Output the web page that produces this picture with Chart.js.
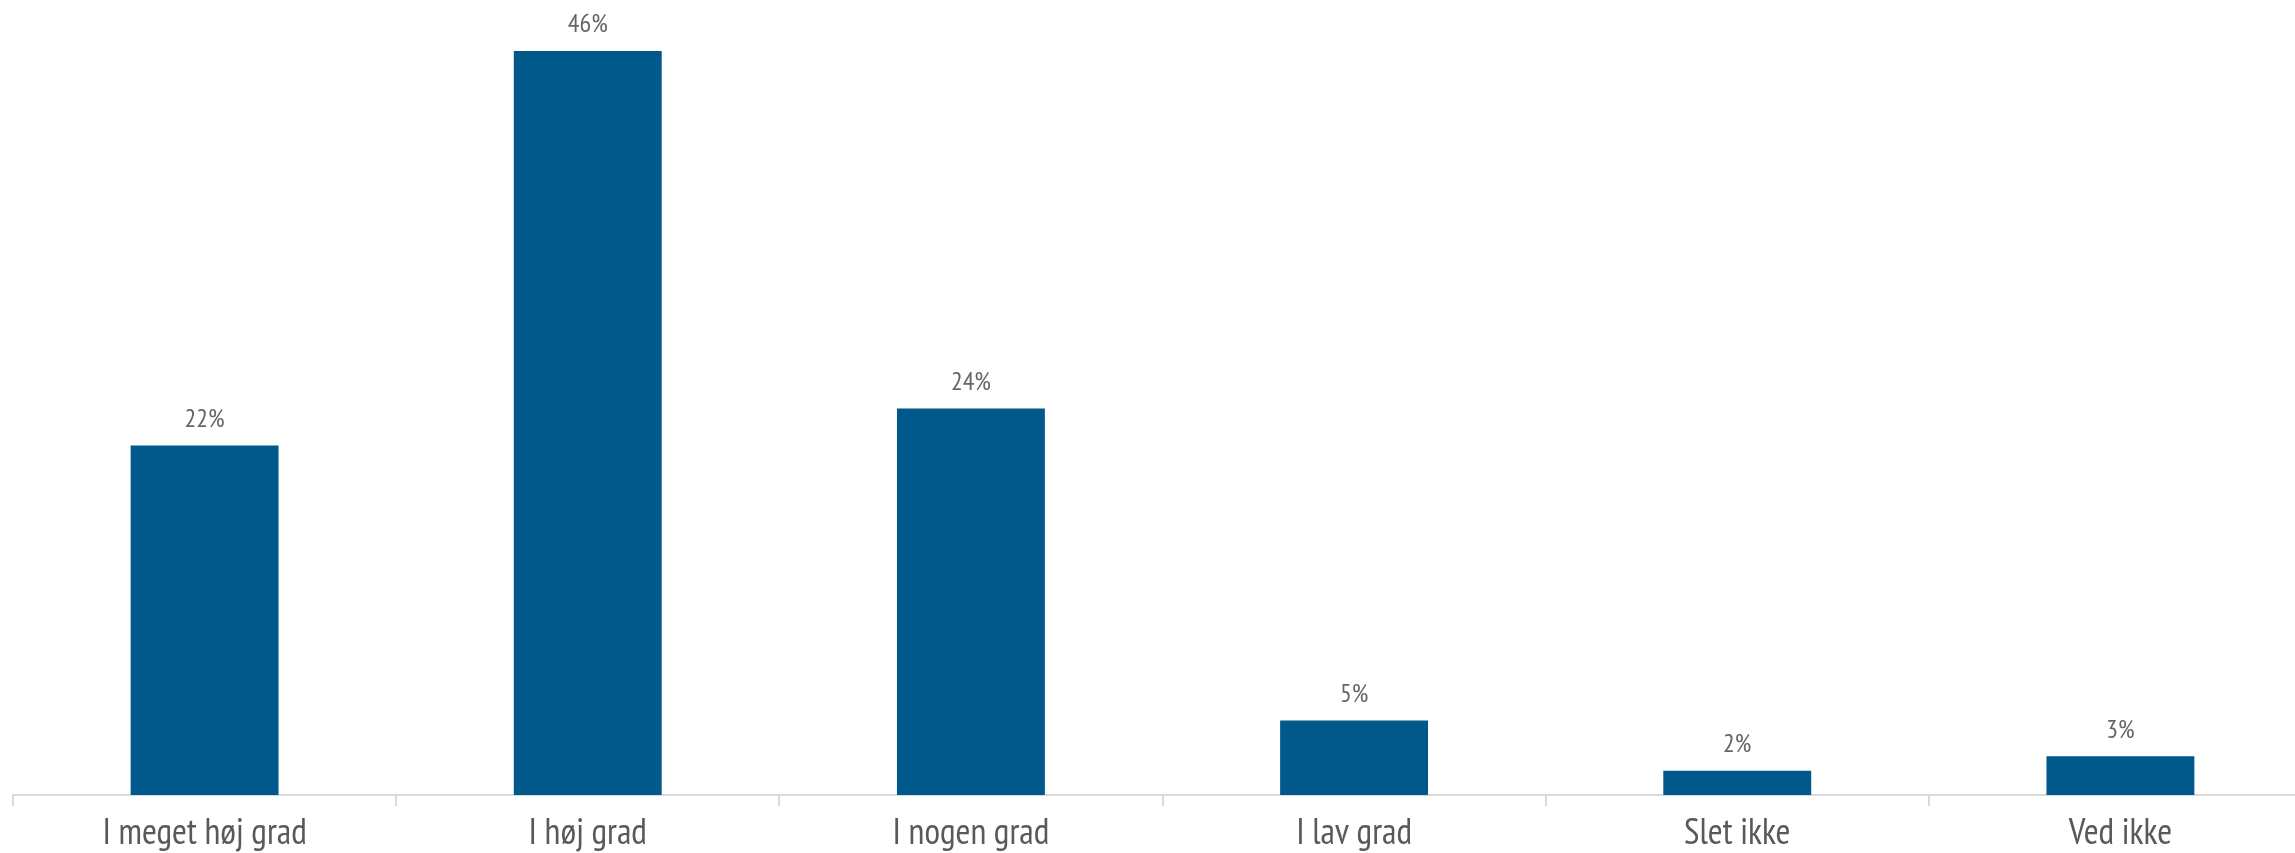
<!DOCTYPE html>
<html>
<head>
<meta charset="utf-8">
<script src="https://cdn.jsdelivr.net/npm/chart.js@4/dist/chart.umd.min.js"></script>
<style>
  html, body { margin: 0; padding: 0; background: #ffffff; overflow: hidden; }
  #wrap { width: 2312px; height: 853px; position: relative; }
</style>
</head>
<body>
<div id="wrap"><canvas id="c"></canvas></div>
<script>
const categories = ["I meget høj grad", "I høj grad", "I nogen grad", "I lav grad", "Slet ikke", "Ved ikke"];
const values = [21.6, 46, 23.9, 4.6, 1.5, 2.4];
const valueLabels = ["22%", "46%", "24%", "5%", "2%", "3%"];

const FONT = "'Liberation Sans Narrow', 'PT Sans Narrow', 'Roboto Condensed', 'DejaVu Sans Condensed', sans-serif";

const barLabels = {
  id: 'barLabels',
  afterDatasetsDraw(chart) {
    const ctx = chart.ctx;
    const meta = chart.getDatasetMeta(0);
    ctx.save();
    ctx.font = "300 26px " + FONT;
    ctx.fillStyle = '#666666';
    ctx.textAlign = 'center';
    ctx.textBaseline = 'bottom';
    meta.data.forEach((bar, i) => {
      ctx.fillText(valueLabels[i], bar.x, bar.y - 13);
    });
    ctx.restore();
  }
};

new Chart(document.getElementById('c'), {
  type: 'bar',
  data: {
    labels: categories,
    datasets: [{
      data: values,
      backgroundColor: '#00598A',
      borderWidth: 0,
      categoryPercentage: 1,
      barPercentage: 0.386
    }]
  },
  options: {
    responsive: true,
    maintainAspectRatio: false,
    animation: false,
    layout: { padding: { left: 13, right: 0, top: 0, bottom: 0 } },
    plugins: { legend: { display: false }, tooltip: { enabled: false } },
    scales: {
      x: {
        afterFit: (scale) => { scale.height = 58; },
        grid: { display: true, drawOnChartArea: false, drawTicks: true, tickLength: 11, color: '#D9D9D9', lineWidth: 2, offset: true },
        border: { display: true, color: '#D9D9D9', width: 2 },
        ticks: { color: '#595959', font: { family: FONT, size: 36, lineHeight: 1.0 }, padding: 10, maxRotation: 0, autoSkip: false }
      },
      y: {
        display: false,
        min: 0,
        max: 49.15
      }
    }
  },
  plugins: [barLabels]
});
</script>
</body>
</html>
